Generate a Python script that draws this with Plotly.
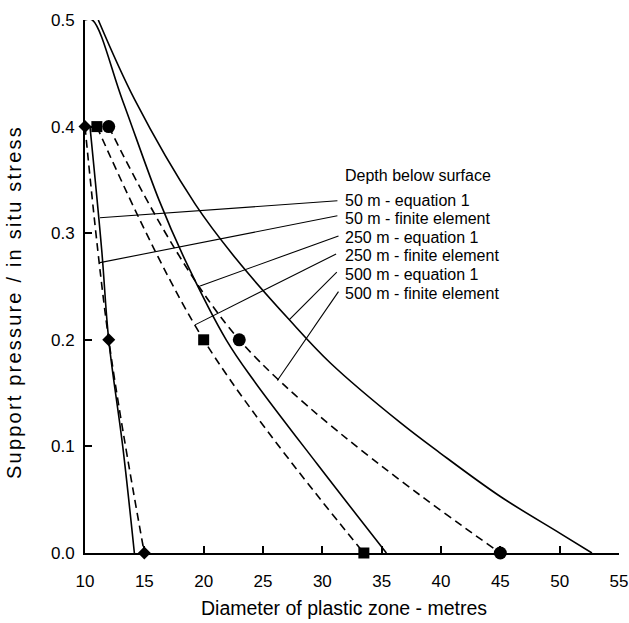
import plotly.graph_objects as go

# ---- data ----
# Equation 1 (solid lines)
eq1_50_x = [10.42, 11.41, 12.0, 13.18, 14.16]
eq1_50_y = [0.40, 0.284, 0.20, 0.10, 0.0]

eq1_250_x = [10.0, 10.62, 13.15, 16.24, 18.43, 21.9, 24.18, 29.6, 35.4]
eq1_250_y = [0.5, 0.5, 0.425, 0.331, 0.275, 0.20, 0.1625, 0.083, 0.0]

eq1_500_x = [11.12, 14.2, 19.3, 22.8, 27.2, 30.7, 36.6, 39.9, 45.0, 50.0, 52.72]
eq1_500_y = [0.5, 0.425, 0.327, 0.275, 0.219, 0.178, 0.122, 0.094, 0.053, 0.0187, 0.0]

# Finite element (dashed lines with markers)
fe_50_x = [10.0, 12.0, 15.0]
fe_50_y = [0.4, 0.2, 0.0]
fe_250_x = [11.0, 20.0, 33.5]
fe_250_y = [0.4, 0.2, 0.0]
fe_500_x = [12.0, 23.0, 45.0]
fe_500_y = [0.4, 0.2, 0.0]

legend_title = "Depth below surface"
series_labels = [
    "50 m - equation 1",
    "50 m - finite element",
    "250 m - equation 1",
    "250 m - finite element",
    "500 m - equation 1",
    "500 m - finite element",
]
# leader lines: label end -> point on curve
leader_from = [(31.27, 0.3304), (31.27, 0.3163), (31.36, 0.2974),
               (31.16, 0.2805), (31.22, 0.2634), (31.36, 0.2452)]
leader_to = [(11.26, 0.3145), (11.26, 0.2724), (19.70, 0.2505),
             (19.27, 0.2140), (27.20, 0.2187), (26.21, 0.1618)]
label_y = [0.3304, 0.3134, 0.2959, 0.2788, 0.2616, 0.2438]
label_x = 31.77
title_y = 0.3546

x_ticks = [10, 15, 20, 25, 30, 35, 40, 45, 50, 55]
y_ticks = [0.0, 0.1, 0.2, 0.3, 0.4, 0.5]

x_title = "Diameter of plastic zone - metres"
y_title = "Support pressure / in situ stress"

fig = go.Figure()

solid = dict(color="black", width=1.6, shape="spline", smoothing=1.0)
dashed = dict(color="black", width=1.6, dash="8px,5px", shape="spline", smoothing=1.0)

for xs, ys, nm in [(eq1_50_x, eq1_50_y, series_labels[0]),
                   (eq1_250_x, eq1_250_y, series_labels[2]),
                   (eq1_500_x, eq1_500_y, series_labels[4])]:
    fig.add_trace(go.Scatter(x=xs, y=ys, mode="lines", line=solid,
                             name=nm, cliponaxis=False, showlegend=False))

for xs, ys, nm, sym, sz in [(fe_50_x, fe_50_y, series_labels[1], "diamond", 10),
                            (fe_250_x, fe_250_y, series_labels[3], "square", 11),
                            (fe_500_x, fe_500_y, series_labels[5], "circle", 13)]:
    fig.add_trace(go.Scatter(x=xs, y=ys, mode="lines+markers", line=dashed,
                             marker=dict(symbol=sym, size=sz, color="black"),
                             name=nm, cliponaxis=False, showlegend=False))

for (x0, y0), (x1, y1) in zip(leader_from, leader_to):
    fig.add_shape(type="line", xref="x", yref="y", x0=x0, y0=y0, x1=x1, y1=y1,
                  line=dict(color="black", width=1.1))

txtfont = dict(family="Liberation Sans, Arial, sans-serif", size=16, color="black")
fig.add_annotation(x=label_x, y=title_y, xref="x", yref="y", text=legend_title,
                   showarrow=False, xanchor="left", yanchor="middle", font=txtfont)
for lab, yy in zip(series_labels, label_y):
    fig.add_annotation(x=label_x, y=yy, xref="x", yref="y", text=lab,
                       showarrow=False, xanchor="left", yanchor="middle", font=txtfont)

# axis titles
fig.add_annotation(x=0.485, y=-0.1025, xref="paper", yref="paper", text=x_title,
                   showarrow=False, xanchor="center", yanchor="middle",
                   font=dict(family="Liberation Sans, Arial, sans-serif", size=19.5, color="black"))
fig.add_annotation(x=-0.133, y=0.471, xref="paper", yref="paper",
                   text="<span style='letter-spacing:2.2px'>" + y_title + "</span>",
                   textangle=-90, showarrow=False, xanchor="center", yanchor="middle",
                   font=dict(family="Liberation Sans, Arial, sans-serif", size=20, color="black"))

tickfont = dict(family="Liberation Sans, Arial, sans-serif", size=17, color="black")

fig.update_layout(
    width=629, height=623,
    margin=dict(l=85, r=10, t=20, b=70, autoexpand=False),
    paper_bgcolor="white", plot_bgcolor="white",
    showlegend=False,
    xaxis=dict(range=[10, 55], tickvals=x_ticks, ticks="inside", ticklen=7, tickwidth=1.5,
               tickcolor="black", showline=True, linecolor="black", linewidth=2,
               showgrid=False, zeroline=False, tickfont=tickfont, ticklabelstandoff=12,
               automargin=False),
    yaxis=dict(range=[0, 0.5], tickvals=y_ticks, tickformat=".1f", ticks="inside", ticklen=7,
               tickwidth=1.5, tickcolor="black", showline=True, linecolor="black", linewidth=2,
               showgrid=False, zeroline=False, tickfont=tickfont, ticklabelstandoff=5,
               automargin=False),
)

fig.write_html("out.html", config={"displayModeBar": False},
               post_script="document.body.style.margin='0px';")
